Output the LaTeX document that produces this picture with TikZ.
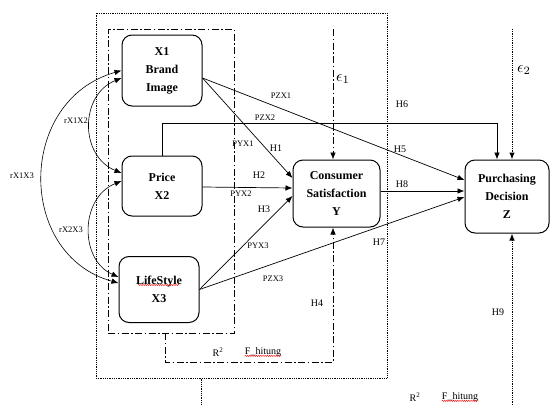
\documentclass[tikz,border=0pt]{standalone}
\usepackage{fontspec}
\setmainfont{Liberation Serif}
\usetikzlibrary{arrows.meta, positioning, calc, decorations.pathmorphing}

\tikzset{
  varbox/.style={draw, line width=1pt, rounded corners=10pt, align=center, inner sep=0pt,
                 font=\fontsize{12}{18}\selectfont\bfseries},
  pline/.style={-{Latex[length=7pt,width=5.5pt]}, line width=0.7pt},
  corr/.style={{Latex[length=7pt,width=5.5pt]}-{Latex[length=7pt,width=5.5pt]}, line width=0.6pt},
  plabel/.style={font=\fontsize{8.5}{9}\selectfont, inner sep=0pt},
  hlabel/.style={font=\fontsize{10}{11}\selectfont, inner sep=0pt},
  errlabel/.style={inner sep=0pt, scale=1.6},
  dashdot/.style={line width=0.7pt, dash pattern=on 7pt off 2.5pt on 1.5pt off 2.5pt},
  dotline/.style={line width=1pt, black, dash pattern=on 0.8pt off 1pt},
  spell/.style={red, line width=0.4pt, decorate, decoration={snake, amplitude=0.6pt, segment length=2.2pt}}
}

\begin{document}
\begin{tikzpicture}[x=1pt, y=-1pt]
  \useasboundingbox (0,0) rectangle (550,405);

  % frames
  \node[draw, dotline, minimum width=291pt, minimum height=365pt] (outer) at (241.5,195.5) {};
  \node[draw, dashdot, minimum width=126pt, minimum height=304pt] (xset) at (171,181) {};

  % variables
  \node[varbox, minimum width=80pt, minimum height=71pt] (x1) at (162,70.5) {X1\\Brand\\Image};
  \node[varbox, minimum width=80pt, minimum height=60pt] (price) at (162,186) {Price\\X2};
  \node[varbox, minimum width=80pt, minimum height=66pt] (ls) at (159,289.5) {LifeStyle\\X3};
  \node[varbox, minimum width=87pt, minimum height=67pt] (cs) at (336.5,193.5) {Consumer\\Satisfaction\\Y};
  \node[varbox, minimum width=84pt, minimum height=73pt] (pd) at (507,196.5) {Purchasing\\Decision\\Z};

  % free ends
  \coordinate (e1top) at (333,29);
  \coordinate (e2top) at (512,29);
  \coordinate (h9foot) at (512,405);
  \coordinate (outfoot) at (201.5,405);

  % paths to Y and Z
  \draw[pline] ([yshift=-7.5pt]x1.east) -- ([yshift=15.5pt]cs.west);
  \draw[pline] ([yshift=-7.5pt]x1.east) -- ([yshift=16.5pt]pd.west);
  \draw[pline] ([yshift=-1pt]price.east) -- ([yshift=5.5pt]cs.west);
  \draw[pline] (price.north) -- ++(0,-32) -| ([xshift=-10pt]pd.north);
  \draw[pline] (ls.east) -- ([yshift=-2.5pt]cs.west);
  \draw[pline] (ls.east) -- ([yshift=-0.5pt]pd.west);
  \draw[pline] ([yshift=2.5pt]cs.east) -- ([yshift=5.5pt]pd.west);

  % error terms and simultaneous tests
  \draw[pline, dashdot] (e1top) -- ([xshift=-3.5pt]cs.north);
  \draw[pline, dotline] (e2top) -- ([xshift=5pt]pd.north);
  \draw[pline, dotline] (h9foot) -- ([xshift=5pt]pd.south);
  \draw[pline, dashdot] ([xshift=-6pt]xset.south) -- ++(0,29) -| ([xshift=-3.5pt]cs.south);
  \draw[dotline] ([xshift=-40pt]outer.south) -- (outfoot);

  % correlations
  \draw[corr] (x1.west) .. controls +(-105,30) and +(-102,-28) .. ([yshift=6.5pt]ls.west);
  \draw[corr] ([yshift=-7.5pt]x1.west) .. controls +(-42,17) and +(-42,-17) .. ([yshift=13pt]price.west);
  \draw[corr] ([yshift=5pt]price.west) .. controls +(-42,17) and +(-39,-17) .. ([yshift=12.5pt]ls.west);

  % labels
  \node[plabel] (rx1x2) at (76,121) {rX1X2};
  \node[plabel] (rx1x3) at (22,176) {rX1X3};
  \node[plabel] (rx2x3) at (71,230) {rX2X3};
  \node[plabel] (pzx1) at (281,96) {PZX1};
  \node[plabel] (pzx2) at (265,118) {PZX2};
  \node[plabel] (pyx1) at (243,144) {PYX1};
  \node[plabel] (pyx2) at (241,194) {PYX2};
  \node[plabel] (pyx3) at (258,246) {PYX3};
  \node[plabel] (pzx3) at (273,279) {PZX3};
  \node[hlabel] (h1) at (276,148) {H1};
  \node[hlabel] (h2) at (259,175) {H2};
  \node[hlabel] (h3) at (264,209) {H3};
  \node[hlabel] (h4) at (317,303) {H4};
  \node[hlabel] (h5) at (400,149) {H5};
  \node[hlabel] (h6) at (402,104) {H6};
  \node[hlabel] (h7) at (379,242) {H7};
  \node[hlabel] (h8) at (402,184) {H8};
  \node[hlabel] (h9) at (498,312) {H9};
  \node[errlabel] (eps1) at (343,79) {$\epsilon_1$};
  \node[errlabel] (eps2) at (524,70) {$\epsilon_2$};
  \node[hlabel] (rsq1) at (218,352) {R\textsuperscript{2}};
  \node[hlabel] (fh1) at (263,352) {F\_hitung};
  \node[hlabel] (rsq2) at (415,397) {R\textsuperscript{2}};
  \node[hlabel] (fh2) at (460,397) {F\_hitung};

  % spell-check marks
  \draw[spell] ([yshift=-1.5pt]fh1.base west) -- ([yshift=-1.5pt]fh1.base east);
  \draw[spell] ([yshift=-1.5pt]fh2.base west) -- ([yshift=-1.5pt]fh2.base east);
  \draw[spell] ([shift={(-21pt,4.5pt)}]ls.center) -- ([shift={(21pt,4.5pt)}]ls.center);
\end{tikzpicture}
\end{document}
